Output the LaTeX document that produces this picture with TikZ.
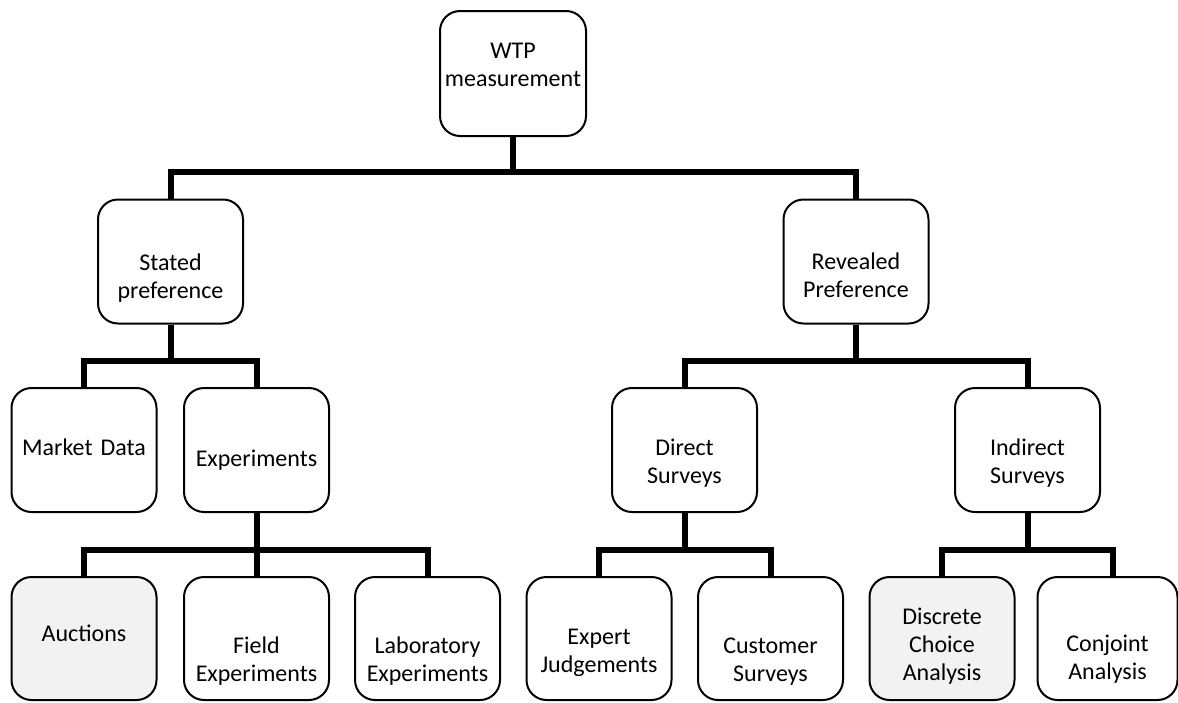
\documentclass[tikz,border=0pt]{standalone}
\usepackage{fontspec}
\setmainfont{Carlito}
\usetikzlibrary{positioning,calc}
\definecolor{boxgrey}{HTML}{F2F2F2}
\tikzset{
	box/.style={draw=black, line width=2pt, rounded corners=20pt, fill=white, minimum width=145pt, minimum height=124pt, text width=140pt, align=center, inner sep=0pt, font=\fontsize{24}{28}\selectfont},
	greybox/.style={box, fill=boxgrey},
	conn/.style={line width=6pt, color=black}
}
\begin{document}
\begin{tikzpicture}[x=1pt,y=-1pt]
		\useasboundingbox (0,0) rectangle (1178,702);

		\node [box, minimum width=146pt, minimum height=125pt, text height=0pt, text depth=31pt] (wtp) at (513, 73.5) {WTP\\measurement};

		\node [box, text height=50pt] (stated) at (170.5, 261.5) {Stated\\preference};
		\node [box, text height=44pt] (revealed) at (856, 261.5) {Revealed\\Preference};

		\node [box, text height=11pt] (market) at (84, 450) {Market Data};
		\node [box, text height=36pt] (exper) at (256.5, 450) {Experiments};
		\node [box, text height=43pt] (direct) at (684.5, 450) {Direct\\Surveys};
		\node [box, text height=43pt] (indirect) at (1027.5, 450) {Indirect\\Surveys};

		\node [greybox, minimum height=123pt, text height=7pt] (auctions) at (84, 638.5) {Auctions};
		\node [box, minimum height=123pt, text height=62pt] (field) at (256.5, 638.5) {Field\\Experiments};
		\node [box, minimum height=123pt, text height=62pt] (lab) at (427.5, 638.5) {Laboratory\\Experiments};
		\node [box, minimum height=123pt, text height=44pt] (expert) at (599, 638.5) {Expert\\Judgements};
		\node [box, minimum height=123pt, text height=62pt] (customer) at (770.5, 638.5) {Customer\\Surveys};
		\node [greybox, minimum height=123pt, text height=32pt] (discrete) at (942, 638.5) {Discrete\\Choice\\Analysis};
		\node [box, minimum width=137pt, minimum height=123pt, text height=58pt] (conjoint) at (1107.5, 638.5) {Conjoint\\Analysis};

		\draw [conn] (wtp.south) -- ++(0,35) -| (stated.north);
		\draw [conn] (wtp.south) -- ++(0,35) -| (revealed.north);
		\draw [conn] (stated.south) -- ++(0,36) -| (market.north);
		\draw [conn] (stated.south) -- ++(0,36) -| (exper.north);
		\draw [conn] (revealed.south) -- ++(0,36) -| (direct.north);
		\draw [conn] (revealed.south) -- ++(0,36) -| (indirect.north);
		\draw [conn] (exper.south) -- ++(0,37) -| (auctions.north);
		\draw [conn] (exper.south) -- ++(0,37) -| (field.north);
		\draw [conn] (exper.south) -- ++(0,37) -| (lab.north);
		\draw [conn] (direct.south) -- ++(0,37) -| (expert.north);
		\draw [conn] (direct.south) -- ++(0,37) -| (customer.north);
		\draw [conn] (indirect.south) -- ++(0,37) -| (discrete.north);
		\draw [conn] (indirect.south) -- ++(0,37) -| ([xshift=5.5pt]conjoint.north);
\end{tikzpicture}
\end{document}
